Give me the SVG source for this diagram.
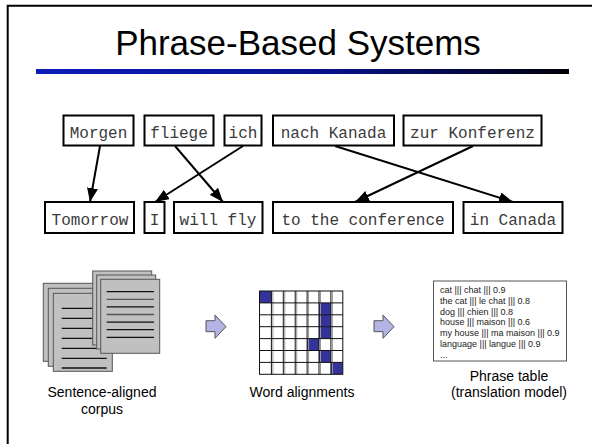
<svg xmlns="http://www.w3.org/2000/svg" width="592" height="444" viewBox="0 0 592 444">
<style>
.box{fill:#fff;stroke:#000;stroke-width:2}
.mono{font-family:"Liberation Mono","Courier New",monospace;font-size:16px;fill:#3a3a3a;text-anchor:middle}
.sans{font-family:"Liberation Sans",Arial,sans-serif;fill:#000}
.cap{font-size:14px;text-anchor:middle}
.pt{font-size:9px;fill:#222}
.conn{stroke:#000;stroke-width:2;fill:none;marker-end:url(#ah)}
.page{fill:#c0c0c0;stroke:#555;stroke-width:1}
.tl{stroke:#111;stroke-width:1.3}
.barrow{fill:#b3b3e6;stroke:#555;stroke-width:1}
.on{fill:#333399}
</style>
<defs>
<linearGradient id="bar" x1="0" y1="0" x2="1" y2="0">
<stop offset="0" stop-color="#0b1cb8"/>
<stop offset="0.55" stop-color="#08128c"/>
<stop offset="1" stop-color="#000008"/>
</linearGradient>
<marker id="ah" viewBox="0 0 14 11" markerWidth="14" markerHeight="11" refX="14" refY="5.5" orient="auto" markerUnits="userSpaceOnUse">
<path d="M0,0 L14,5.5 L0,11 z" fill="#000"/>
</marker>
</defs>
<rect width="592" height="444" fill="#fff"/>
<path d="M7.7,444 V5.8 H592" fill="none" stroke="#000" stroke-width="2"/>
<text class="sans" x="298" y="55" font-size="35" text-anchor="middle">Phrase-Based Systems</text>
<rect x="36" y="69" width="533" height="5" fill="url(#bar)"/>

<g id="connectors">
<line class="conn" x1="100" y1="146" x2="90" y2="202"/>
<line class="conn" x1="175" y1="146" x2="223" y2="202"/>
<line class="conn" x1="243" y1="146" x2="155" y2="202"/>
<line class="conn" x1="335" y1="146" x2="513" y2="202"/>
<line class="conn" x1="473" y1="146" x2="355" y2="202"/>
</g>

<g id="n-morgen"><rect class="box" x="63.5" y="115.5" width="70" height="30"/><text class="mono" x="98.5" y="138">Morgen</text></g>
<g id="n-fliege"><rect class="box" x="144.5" y="115.5" width="69" height="30"/><text class="mono" x="179" y="138">fliege</text></g>
<g id="n-ich"><rect class="box" x="224.5" y="115.5" width="37" height="30"/><text class="mono" x="243" y="138">ich</text></g>
<g id="n-nach"><rect class="box" x="273" y="115.5" width="121" height="30"/><text class="mono" x="333.5" y="138">nach Kanada</text></g>
<g id="n-zur"><rect class="box" x="403.5" y="115.5" width="138" height="30"/><text class="mono" x="472.5" y="138">zur Konferenz</text></g>

<g id="n-tomorrow"><rect class="box" x="45" y="202" width="89" height="31"/><text class="mono" x="90" y="225">Tomorrow</text></g>
<g id="n-i"><rect class="box" x="144.5" y="202" width="20" height="31"/><text class="mono" x="154.5" y="225">I</text></g>
<g id="n-willfly"><rect class="box" x="174" y="202" width="88.5" height="31"/><text class="mono" x="218" y="225">will fly</text></g>
<g id="n-conf"><rect class="box" x="273" y="202" width="180" height="31"/><text class="mono" x="363" y="225">to the conference</text></g>
<g id="n-canada"><rect class="box" x="463.5" y="202" width="99" height="31"/><text class="mono" x="513" y="225">in Canada</text></g>

<g id="corpus">
<rect class="page" x="43.3" y="283.3" width="59" height="78"/>
<rect class="page" x="48.3" y="288.3" width="59" height="78"/>
<rect class="page" x="53.3" y="293.3" width="59" height="78"/>
<g class="tl">
<line x1="61.7" y1="308.3" x2="106.7" y2="308.3"/>
<line x1="61.7" y1="318.3" x2="106.7" y2="318.3"/>
<line x1="61.7" y1="328.3" x2="106.7" y2="328.3"/>
<line x1="61.7" y1="338.3" x2="106.7" y2="338.3"/>
<line x1="61.7" y1="348.3" x2="106.7" y2="348.3"/>
<line x1="61.7" y1="358.3" x2="106.7" y2="358.3"/>
<line x1="61.7" y1="368" x2="106.7" y2="368"/>
</g>
<rect class="page" x="92.7" y="271" width="59" height="74"/>
<rect class="page" x="96.7" y="275" width="59" height="74"/>
<rect class="page" x="100.7" y="279.3" width="59" height="74"/>
<g class="tl">
<line x1="106.7" y1="291.7" x2="154" y2="291.7"/>
<line x1="106.7" y1="299.3" x2="154" y2="299.3" stroke="#555"/>
<line x1="106.7" y1="306.9" x2="154" y2="306.9"/>
<line x1="106.7" y1="314.5" x2="154" y2="314.5" stroke="#555"/>
<line x1="106.7" y1="322.1" x2="154" y2="322.1"/>
<line x1="106.7" y1="329.7" x2="154" y2="329.7"/>
<line x1="106.7" y1="337.3" x2="154" y2="337.3"/>
</g>
<text class="sans cap" x="102" y="397">Sentence-aligned</text>
<text class="sans cap" x="102" y="414">corpus</text>
</g>

<g id="arrow1"><path class="barrow" d="M206,320.7 H215 V315 L226,326.7 L215,338.3 V331.7 H206 Z"/></g>

<g id="alignments">
<rect class="on" x="259.5" y="291" width="11.9" height="11.9"/>
<rect class="on" x="319" y="302.9" width="11.9" height="11.9"/>
<rect class="on" x="319" y="314.8" width="11.9" height="11.9"/>
<rect class="on" x="319" y="326.7" width="11.9" height="11.9"/>
<rect class="on" x="307.1" y="338.6" width="11.9" height="11.9"/>
<rect class="on" x="319" y="350.5" width="11.9" height="11.9"/>
<rect class="on" x="330.9" y="362.4" width="11.9" height="11.9"/>
<g stroke="#999" stroke-width="1">
<path d="M272.9,291 V374.3 M284.8,291 V374.3 M296.7,291 V374.3 M308.6,291 V374.3 M320.5,291 V374.3 M332.4,291 V374.3"/>
</g>
<g stroke="#111" stroke-width="1" fill="none">
<rect x="259.5" y="291" width="83.3" height="83.3"/>
<path d="M271.4,291 V374.3 M283.3,291 V374.3 M295.2,291 V374.3 M307.1,291 V374.3 M319,291 V374.3 M330.9,291 V374.3"/>
<path d="M259.5,302.9 H342.8 M259.5,314.8 H342.8 M259.5,326.7 H342.8 M259.5,338.6 H342.8 M259.5,350.5 H342.8 M259.5,362.4 H342.8"/>
</g>
<text class="sans cap" x="302" y="397">Word alignments</text>
</g>

<g id="arrow2"><path class="barrow" d="M374,320.7 H383 V315 L394,326.7 L383,338.3 V331.7 H374 Z"/></g>

<g id="phrasetable">
<rect x="433.5" y="281" width="133" height="80" fill="#fff" stroke="#555" stroke-width="1"/>
<text class="sans pt" x="440" y="293.3">cat ||| chat ||| 0.9</text>
<text class="sans pt" x="440" y="304">the cat ||| le chat ||| 0.8</text>
<text class="sans pt" x="440" y="314.7">dog ||| chien ||| 0.8</text>
<text class="sans pt" x="440" y="325.4">house ||| maison ||| 0.6</text>
<text class="sans pt" x="440" y="336.1">my house ||| ma maison ||| 0.9</text>
<text class="sans pt" x="440" y="346.8">language ||| langue ||| 0.9</text>
<text class="sans pt" x="440" y="357.5">...</text>
<text class="sans cap" x="509" y="381">Phrase table</text>
<text class="sans cap" x="509" y="397">(translation model)</text>
</g>
</svg>
